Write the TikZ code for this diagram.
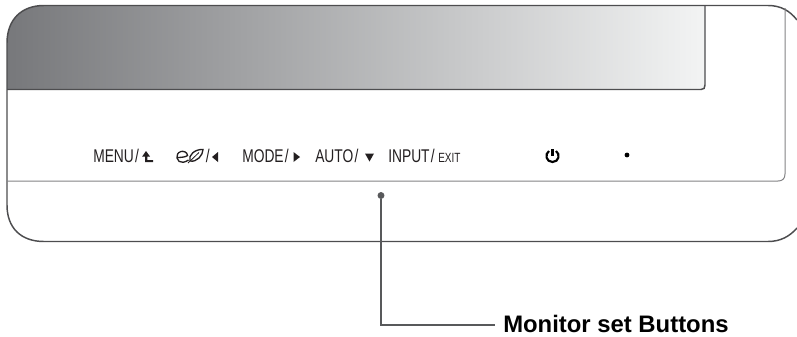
\documentclass[tikz,border=0pt]{standalone}
\usepackage{fontspec}
\usepackage{xcolor}
\setmainfont{Liberation Sans}
\newfontfamily\btnfont[FakeStretch=0.75]{Liberation Sans}
\definecolor{framegray}{HTML}{4D4D4F}
\definecolor{inkgray}{HTML}{231F20}
\definecolor{leadgray}{HTML}{58595B}
\definecolor{screenleft}{HTML}{77787B}
\definecolor{screenright}{HTML}{F3F4F4}
\tikzset{
  btnlabel/.style={inner sep=0pt, anchor=base west, text=inkgray, font=\btnfont\fontsize{13.8}{15}\selectfont},
  btnsmall/.style={btnlabel, font=\btnfont\fontsize{10}{11}\selectfont},
  glyph/.style={fill=inkgray, draw=none},
  dotmark/.style={circle, fill=leadgray, inner sep=0pt, minimum size=5.2pt},
  calltext/.style={inner sep=0pt, anchor=base west, text=black, font=\fontsize{17.9}{20}\selectfont\bfseries}
}
\begin{document}
\begin{tikzpicture}[x=0.75pt, y=-0.75pt]
        \useasboundingbox (0,0) rectangle (797,336);

        % screen
        \shade[left color=screenleft, right color=screenright] (7,89.5) -- (7,43)
          .. controls (7,20) and (21,5.5) .. (44,5.5) -- (705,5.5) -- (705,85)
          .. controls (705,88) and (704,89.5) .. (701,89.5) -- cycle;
        \draw[framegray, line width=1.1pt] (705,5.5) -- (705,85)
          .. controls (705,88) and (704,89.5) .. (701,89.5) -- (7,89.5);

        % outer frame
        \draw[framegray, line width=1.1pt] (797,20) .. controls (790,11) and (781,5.5) .. (768,5.5)
          -- (44,5.5) .. controls (21,5.5) and (7,20) .. (7,43) -- (7,205)
          .. controls (7,228) and (21,241.5) .. (44,241.5) -- (768,241.5)
          .. controls (781,241.5) and (790,236) .. (797,228);

        % panel line
        \draw[framegray!70, line width=0.75pt] (785,8) -- (785,174)
          .. controls (785,179) and (782,181) .. (778,181) -- (7,181);

        % labels
        \node[btnlabel] (menu) at (93,162) {MENU\kern1pt/};
        \node[btnlabel] (eco) at (205.5,162) {/};
        \node[btnlabel] (mode) at (242,162) {MODE\kern1pt/};
        \node[btnlabel] (auto) at (315,162) {AUTO\kern1pt/};
        \node[btnlabel] (input) at (388,162) {INPUT\kern1pt/};
        \node[btnsmall] (exit) at (438,162) {EXIT};

        % menu arrow
        \fill[glyph] (146,151) -- (150,156.5) -- (147.4,156.5) -- (147.4,160) -- (153,160)
          -- (153,162) -- (145.2,162) -- (145.2,156.5) -- (142.2,156.5) -- cycle;

        % eco symbol
        \draw[inkgray, line width=1pt] (177.5,157.5) .. controls (181,157.5) and (186,157) .. (187.5,155.5)
          .. controls (187.5,152) and (183,150.8) .. (181,151.5) .. controls (177.5,152.5) and (176.5,155.5) .. (177,158)
          .. controls (177.5,161) and (180,162.5) .. (183,162.3) .. controls (185,162.2) and (187,161) .. (188.5,160);
        \draw[inkgray, line width=1pt] (190,161) .. controls (188,155) and (195,149) .. (203,149.5)
          .. controls (203,155) and (197,162.5) .. (190,161);
        \draw[inkgray, line width=0.6pt] (188,163) -- (199,152.5);

        % triangles
        \fill[glyph] (212,157) -- (218,152) -- (218,162) -- cycle;
        \fill[glyph] (300,157) -- (293.5,152) -- (293.5,162) -- cycle;
        \fill[glyph] (369.5,161.5) -- (365,153.5) -- (374,153.5) -- cycle;

        % power
        \draw[black, line width=1.6pt] (549,151) .. controls (544.5,154) and (546,162) .. (552.5,162)
          .. controls (559,162) and (560.5,154) .. (556,151);
        \draw[black, line width=1.6pt] (552.5,149) -- (552.5,156);
        \fill[black] (627,155) circle (2.4);

        % callout
        \node[dotmark] (btnpoint) at (381,195.5) {};
        \node[calltext] (btnname) at (503,332) {Monitor set Buttons};
        \coordinate (btnend) at (495,325);
        \draw[leadgray, line width=1.7pt] (btnpoint) |- (btnend);
      \end{tikzpicture}
\end{document}
